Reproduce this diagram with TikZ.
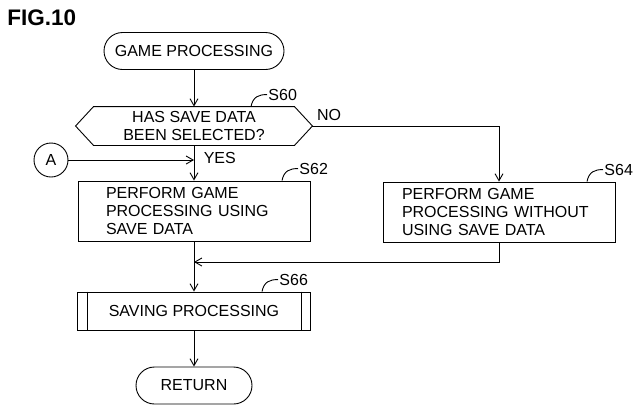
\documentclass[tikz,border=0pt]{standalone}
\usepackage{fontspec}
\setmainfont{Liberation Sans}
\usetikzlibrary{arrows.meta,calc}
\begin{document}
\begin{tikzpicture}[x=1pt,y=-1pt,line width=0.9pt,font=\fontsize{16}{18}\selectfont,
  term/.style={draw,rounded corners=18.5pt,minimum height=37pt,inner xsep=3pt},
  proc/.style={draw,align=left,minimum height=60pt},
  ar/.style={-{Straight Barb[length=7pt,width=8pt]}}]
\useasboundingbox (0,0) rectangle (640,413);
\node[anchor=base west,inner sep=0pt,font=\bfseries\fontsize{22.5}{22.5}\selectfont] (fig) at (7,25.5) {FIG.10};
\node[term,minimum width=180pt] (start) at (194,51) {GAME PROCESSING};
\node[minimum width=200pt,minimum height=38pt,align=center,inner sep=1pt] (s60) at (194,126) {HAS SAVE DATA\\BEEN SELECTED?};
\draw (s60.north west)--(s60.north east)--([xshift=18pt]s60.east)coordinate(noPt)--(s60.south east)--(s60.south west)--([xshift=-18pt]s60.west)--cycle;
\draw ([xshift=57pt]s60.north) .. controls +(2,-10) and +(-8,0) .. +(16,-12) node[right,inner sep=1pt]{S60};
\node[draw,circle,minimum size=34pt,inner sep=0pt] (a) at (51,160) {A};
\node[anchor=west] (yes) at (200,158) {YES};
\node (no) at (329,115) {NO};
\node[proc,text width=176pt,inner xsep=28pt] (s62) at (194,211) {PERFORM GAME\\PROCESSING USING\\SAVE DATA};
\draw ([xshift=88pt]s62.north) .. controls +(2,-10) and +(-8,0) .. +(16,-12) node[right,inner sep=1pt]{S62};
\node[proc,text width=194pt,inner xsep=19pt] (s64) at (499,212) {PERFORM GAME\\PROCESSING WITHOUT\\USING SAVE DATA};
\draw ([xshift=88pt]s64.north) .. controls +(2,-10) and +(-8,0) .. +(16,-12) node[right,inner sep=1pt]{S64};
\node[draw,minimum width=233pt,minimum height=38pt] (s66) at (194,311) {SAVING PROCESSING};
\draw ([xshift=10pt]s66.north west)--([xshift=10pt]s66.south west);
\draw ([xshift=-10pt]s66.north east)--([xshift=-10pt]s66.south east);
\draw ([xshift=68pt]s66.north) .. controls +(2,-10) and +(-8,0) .. +(16,-12) node[right,inner sep=1pt]{S66};
\node[term,minimum width=116pt] (ret) at (194,385.5) {RETURN};
\coordinate (mrg) at (194,262);
\draw[ar] (start)--(s60);
\draw[ar] (s60)--(s62);
\draw[ar] (a)--(a-|s60);
\draw[ar] (noPt)-|(s64);
\draw[ar] (s62)--(s66);
\draw[ar] (s64.south)|-(mrg);
\draw[ar] (s66)--(ret);
\end{tikzpicture}
\end{document}
